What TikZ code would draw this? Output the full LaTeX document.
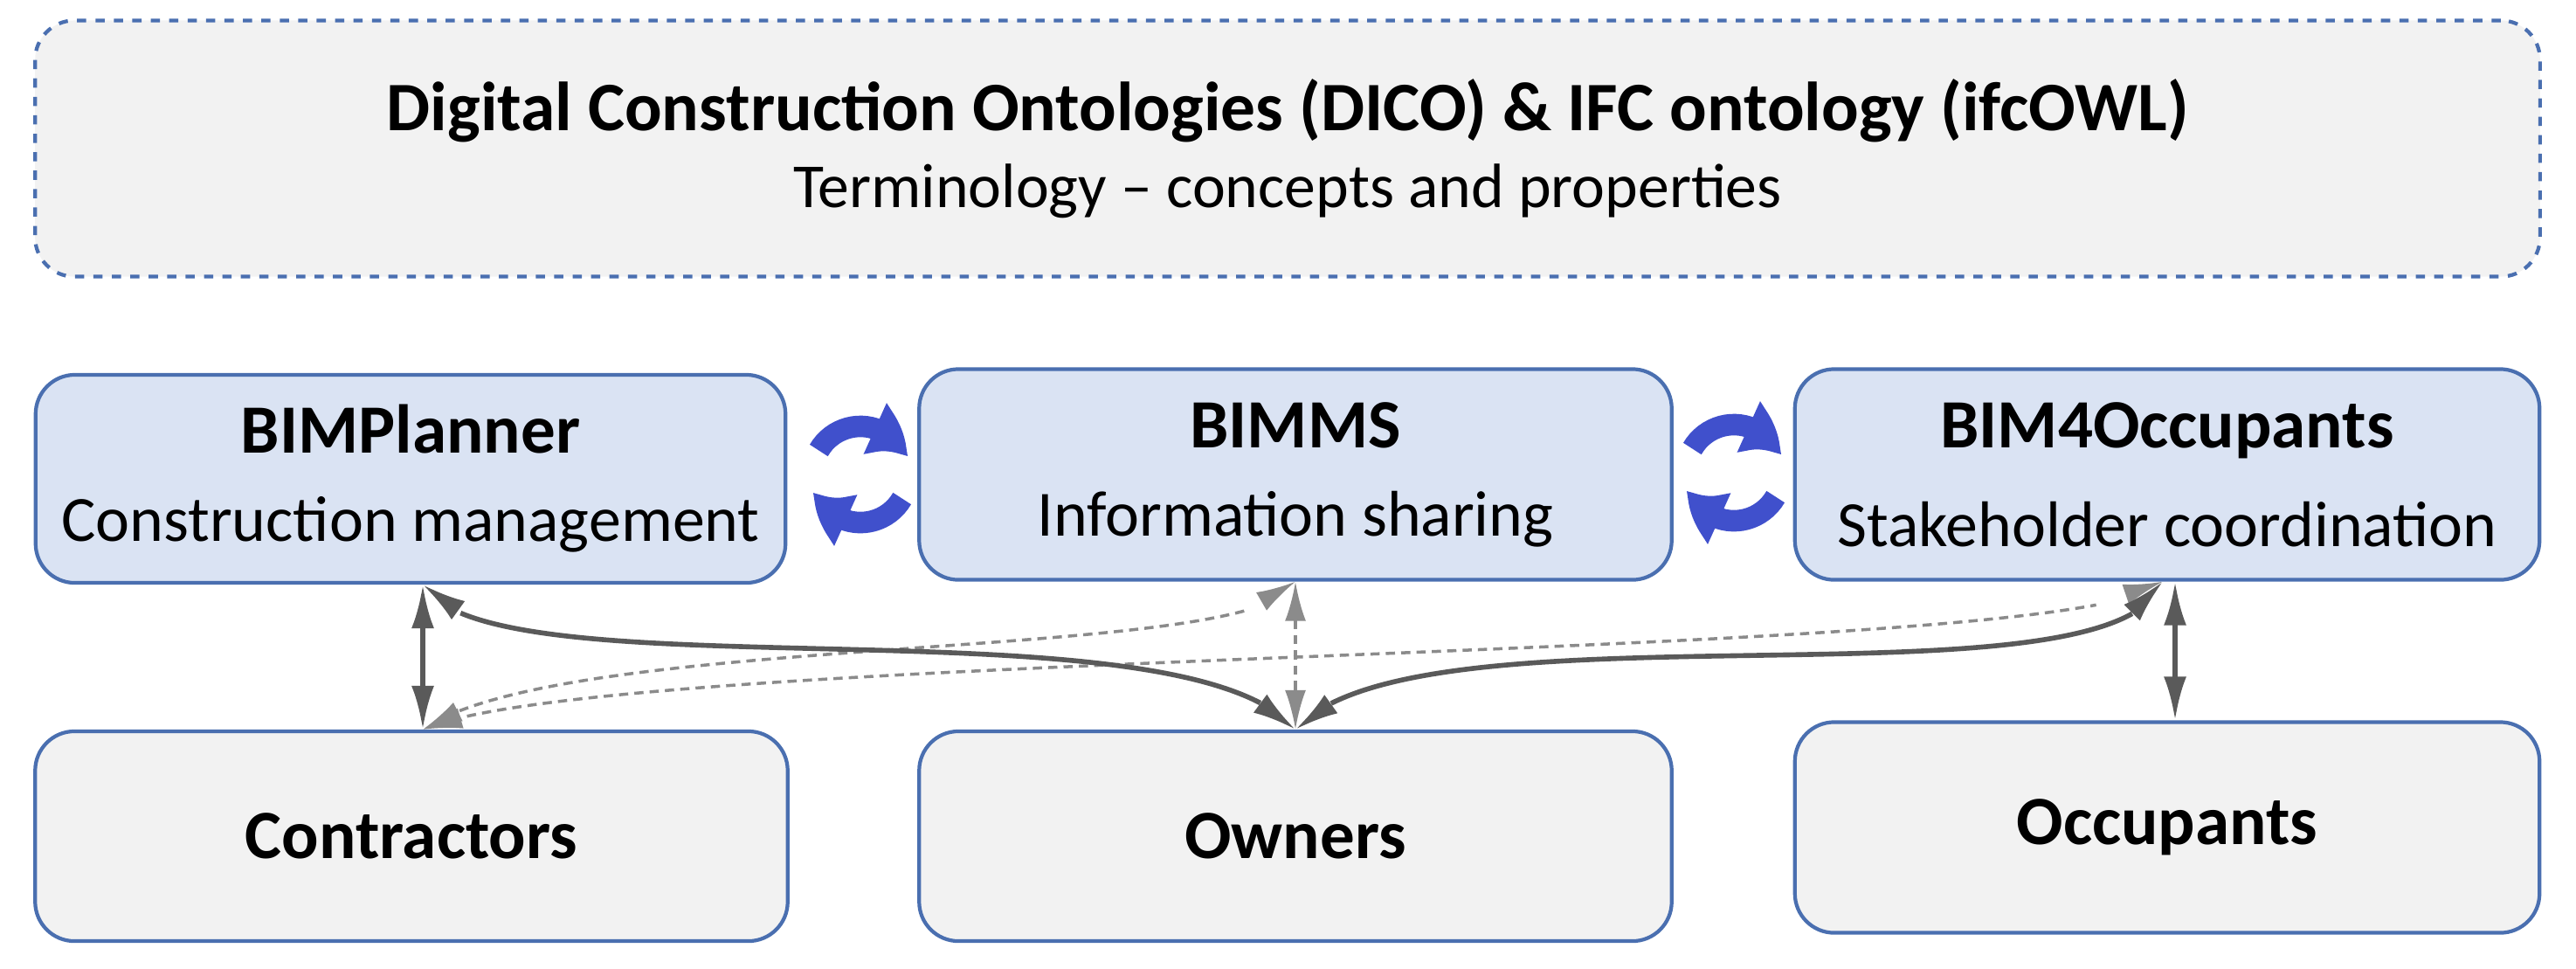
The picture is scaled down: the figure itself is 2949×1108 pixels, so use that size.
\documentclass[tikz,border=0pt]{standalone}
\usepackage{fontspec}
\setmainfont{Carlito}
\usetikzlibrary{arrows.meta,bending}
\definecolor{bfill}{HTML}{DAE3F3}
\definecolor{gfill}{HTML}{F2F2F2}
\definecolor{bdr}{HTML}{4A6FB0}
\definecolor{cyc}{HTML}{4050CC}
\definecolor{con}{HTML}{5A5A5A}
\begin{document}
\begin{tikzpicture}[x=0.01cm,y=-0.01cm,
 box/.style={draw=bdr,line width=1.2pt,rounded corners=0.45cm,inner sep=0pt,align=center},
 sys/.style={box,fill=bfill},
 grp/.style={box,fill=gfill},
 hd/.style={font=\fontsize{22.5}{28}\selectfont\bfseries},
 con/.style={draw=con,line width=1.6pt,{Latex[length=0.5cm,width=0.26cm]}-{Latex[length=0.5cm,width=0.26cm]}},
 dcon/.style={draw=con!70,line width=1pt,densely dashed,{Latex[length=0.45cm,width=0.24cm]}-{Latex[length=0.45cm,width=0.24cm]}},
 cyca/.style={draw=cyc,line width=7pt,-{Triangle[length=0.5cm,width=0.6cm,bend]}}]
\useasboundingbox (0,0) rectangle (2949,1108);
\node[box,fill=gfill,dashed,minimum width=28.66cm,minimum height=2.93cm] (top) at (1474,170)
 {\fontsize{22.6}{27}\selectfont\bfseries Digital Construction Ontologies (DICO) \& IFC ontology (ifcOWL)\\[6pt]\fontsize{20.4}{25}\selectfont Terminology – concepts and properties};
\node[sys,minimum width=8.58cm,minimum height=2.38cm] (bp) at (470,548)
 {\fontsize{22.5}{28}\selectfont\bfseries BIMPlanner\\[13pt]\fontsize{21}{26}\selectfont Construction management};
\node[sys,minimum width=8.61cm,minimum height=2.41cm] (bm) at (1483,543)
 {\fontsize{22.5}{28}\selectfont\bfseries BIMMS\\[13pt]\fontsize{21}{26}\selectfont Information sharing};
\node[sys,minimum width=8.52cm,minimum height=2.41cm] (bo) at (2481,543)
 {\fontsize{22.5}{28}\selectfont\bfseries BIM4Occupants\\[13pt]\fontsize{21}{26}\selectfont Stakeholder coordination};
\node[grp,hd,minimum width=8.61cm,minimum height=2.40cm] (ct) at (471,957) {Contractors};
\node[grp,hd,minimum width=8.61cm,minimum height=2.40cm] (ow) at (1483,957) {Owners};
\node[grp,hd,minimum width=8.52cm,minimum height=2.41cm] (oc) at (2481,947) {Occupants};
% connectors
\coordinate (bpS) at ([xshift=0.14cm]bp.south);
\coordinate (ctN) at ([xshift=0.13cm]ct.north);
\coordinate (boS) at ([xshift=-0.05cm]bo.south);
\coordinate (boS2) at ([xshift=0.09cm]bo.south);
\coordinate (ocN) at ([xshift=0.09cm]oc.north);
\draw[dcon] (ctN) .. controls (650,720) and (1450,760) .. (bm.south);
\draw[dcon] (ctN) .. controls (700,740) and (2400,760) .. (boS);
\draw[dcon] (bm.south) -- (ow.north);
\draw[con] (bpS) -- (ctN);
\draw[con] (bpS) .. controls (560,800) and (1350,680) .. (ow.north);
\draw[con] (boS) .. controls (2420,820) and (1620,680) .. (ow.north);
\draw[con] (boS2) -- (ocN);
% cycle arrows
\foreach \cx/\cy [count=\i] in {985/543,1985/541}{
 \coordinate (c\i) at (\cx,\cy);
 \draw[cyca] ([shift={(150:0.55cm)}]c\i) arc[start angle=150,end angle=20,radius=0.55cm];
 \draw[cyca] ([shift={(-30:0.55cm)}]c\i) arc[start angle=-30,end angle=-160,radius=0.55cm];
}
\end{tikzpicture}
\end{document}
